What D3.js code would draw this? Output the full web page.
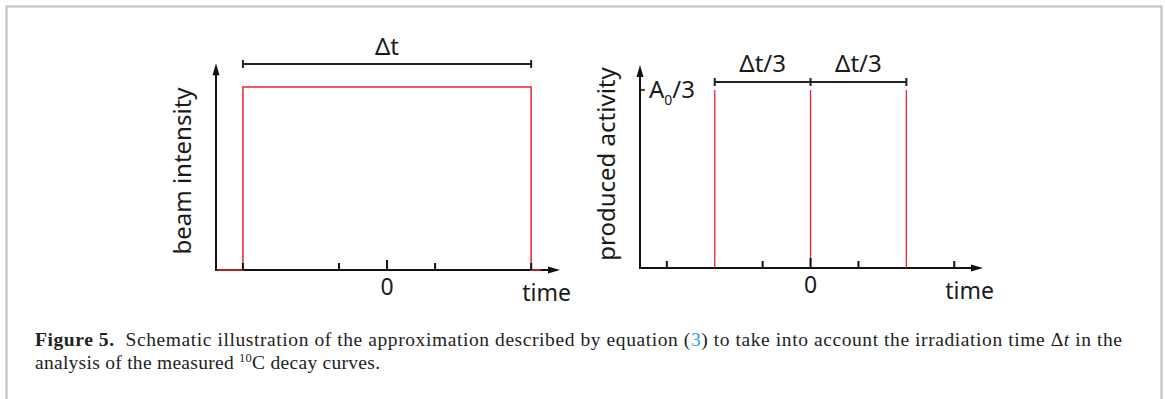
<!DOCTYPE html>
<html>
<head>
<meta charset="utf-8">
<script src="https://cdn.jsdelivr.net/npm/d3@7"></script>
<style>
  body { margin: 0; background: #fff; }
  svg text { fill: #1a1a1a; }
</style>
</head>
<body>
<div id="fig"></div>
<script>
// time in units of dt/6, 0 = centre of the irradiation
let tickValues = [-3, -1, 0, 1, 3];
let beamPulse = [-3, 3];          // beam on from -dt/2 to +dt/2, intensity 1
let pulseTimes = [-2, 0, 2];      // three instantaneous productions of A0/3
let pulseLevel = 1;
let bracketLeft = [-3, 3];
let bracketRight = [[-2, 0], [0, 2]];
let axisLabels = ["beam intensity", "produced activity"];
let bracketLabels = ["Δt", "Δt/3"];

let W = 1165, H = 399;
let svg = d3.select("#fig").append("svg").attr("width", W).attr("height", H);

// figure frame (top, left, right)
svg.append("path")
    .attr("d", "M6.5,399 L6.5,6.5 L1161.5,6.5 L1161.5,399")
    .attr("fill", "none").attr("stroke", "#bdbdbd").attr("stroke-width", 2);

let red = "#e8262b";
let sans = "'Noto Sans', 'Open Sans', sans-serif";

function drawPanel(opt) {
    let x = d3.scaleLinear().domain([-3.56, 3.6]).range([opt.x0, opt.x1]);
    let y = d3.scaleLinear().domain([0, 1]).range([opt.y0, opt.yTop]);
    let g = svg.append("g");

    let x0 = x(-3.56), xEnd = x(3.6), yb = y(0), yEnd = y(opt.yArrow);

    // axes
    g.append("line").attr("x1", x0).attr("x2", xEnd - 8).attr("y1", yb).attr("y2", yb)
        .attr("stroke", "#111").attr("stroke-width", 2);
    g.append("line").attr("x1", x0).attr("x2", x0).attr("y1", yb + 1).attr("y2", yEnd + 8)
        .attr("stroke", "#111").attr("stroke-width", 2);
    g.append("path")
        .attr("d", `M${xEnd},${yb} L${xEnd - 12},${yb - 3.5} L${xEnd - 12},${yb + 3.5} Z`)
        .attr("fill", "#111");
    g.append("path")
        .attr("d", `M${x0},${yEnd} L${x0 - 3.5},${yEnd + 12} L${x0 + 3.5},${yEnd + 12} Z`)
        .attr("fill", "#111");

    // red signal over the axis line, ticks over the signal
    opt.drawSignal(g, x, y);

    g.selectAll(".tk").data(tickValues).join("line")
        .attr("x1", d => x(d)).attr("x2", d => x(d))
        .attr("y1", yb).attr("y2", d => d === 0 ? yb - 10 : yb - 7)
        .attr("stroke", "#111").attr("stroke-width", 2);

    g.append("text").attr("x", x(0)).attr("y", opt.zeroY)
        .attr("text-anchor", "middle").style("font", "23px " + sans).text("0");
    g.append("text").attr("x", xEnd + 11).attr("y", opt.timeY)
        .attr("text-anchor", "end").style("font", "23px " + sans).text("time");

    g.append("text")
        .attr("transform", `translate(${opt.labelX},${opt.labelY}) rotate(-90)`)
        .attr("text-anchor", "middle").style("font", "24px " + sans).text(opt.label);

    opt.drawBracket(g, x, y);
}

function bracket(g, xa, xb, yy, caps) {
    g.append("line").attr("x1", xa).attr("x2", xb).attr("y1", yy).attr("y2", yy)
        .attr("stroke", "#222").attr("stroke-width", 2);
    g.selectAll(null).data(caps).join("line")
        .attr("x1", d => d).attr("x2", d => d).attr("y1", yy - 4).attr("y2", yy + 4)
        .attr("stroke", "#222").attr("stroke-width", 2);
}

// left panel: beam intensity
drawPanel({
    x0: 216, x1: 560, y0: 270, yTop: 87, yArrow: 1.13,
    zeroY: 295, timeY: 301, label: axisLabels[0], labelX: 191, labelY: 171,
    drawSignal: function(g, x, y) {
        let pts = [[-3.52, 0], [beamPulse[0], 0], [beamPulse[0], pulseLevel],
                   [beamPulse[1], pulseLevel], [beamPulse[1], 0], [3.2, 0]];
        g.append("path")
            .attr("d", d3.line().x(d => x(d[0])).y(d => y(d[1]))(pts))
            .attr("fill", "none").attr("stroke", red).attr("stroke-width", 1.5);
    },
    drawBracket: function(g, x, y) {
        let yy = y(1.126);
        bracket(g, x(bracketLeft[0]), x(bracketLeft[1]), yy, bracketLeft.map(x));
        g.append("text").attr("x", x(0)).attr("y", yy - 9)
            .attr("text-anchor", "middle").style("font", "24px " + sans).text(bracketLabels[0]);
    }
});

// right panel: produced activity
drawPanel({
    x0: 640, x1: 983, y0: 268, yTop: 90, yArrow: 1.14,
    zeroY: 293, timeY: 299, label: axisLabels[1], labelX: 615, labelY: 164,
    drawSignal: function(g, x, y) {
        g.selectAll(".pulse").data(pulseTimes).join("line")
            .attr("x1", d => x(d)).attr("x2", d => x(d))
            .attr("y1", y(0)).attr("y2", y(pulseLevel))
            .attr("stroke", red).attr("stroke-width", 1.3);
        // tick on the y axis at A0/3
        g.append("line").attr("x1", x(-3.56)).attr("x2", x(-3.56) + 5)
            .attr("y1", y(pulseLevel)).attr("y2", y(pulseLevel))
            .attr("stroke", "#111").attr("stroke-width", 1.5);
        let t = g.append("text").attr("x", x(-3.56) + 9).attr("y", y(pulseLevel) + 8)
            .style("font", "24px " + sans);
        t.append("tspan").text("A");
        t.append("tspan").attr("dy", 7).style("font-size", "14px").text("0");
        t.append("tspan").attr("dy", -7).text("/3");
    },
    drawBracket: function(g, x, y) {
        let yy = y(1.045);
        let caps = [bracketRight[0][0], bracketRight[0][1], bracketRight[1][1]];
        bracket(g, x(bracketRight[0][0]), x(bracketRight[1][1]), yy, caps.map(x));
        g.selectAll(".bl").data(bracketRight).join("text")
            .attr("x", d => x((d[0] + d[1]) / 2)).attr("y", yy - 10)
            .attr("text-anchor", "middle").style("font", "24px " + sans)
            .text(bracketLabels[1]);
    }
});

// caption
let serif = "'Liberation Serif', 'Times New Roman', serif";
let cap = svg.append("text").attr("x", 35).attr("y", 346)
    .attr("textLength", 1087).attr("lengthAdjust", "spacing")
    .style("font", "19.5px " + serif).style("fill", "#222");
cap.append("tspan").style("font-weight", "bold").text("Figure 5.");
cap.append("tspan").text("\u00a0\u00a0Schematic illustration of the approximation described by equation (");
cap.append("tspan").style("fill", "#2a9fd8").text("3");
cap.append("tspan").text(") to take into account the irradiation time Δ");
cap.append("tspan").style("font-style", "italic").text("t");
cap.append("tspan").text(" in the");

let cap2 = svg.append("text").attr("x", 35).attr("y", 369)
    .attr("textLength", 345).attr("lengthAdjust", "spacing")
    .style("font", "19.5px " + serif).style("fill", "#222");
cap2.append("tspan").text("analysis of the measured ");
cap2.append("tspan").attr("dy", -7).style("font-size", "12.5px").text("10");
cap2.append("tspan").attr("dy", 7).text("C decay curves.");
</script>
</body>
</html>
